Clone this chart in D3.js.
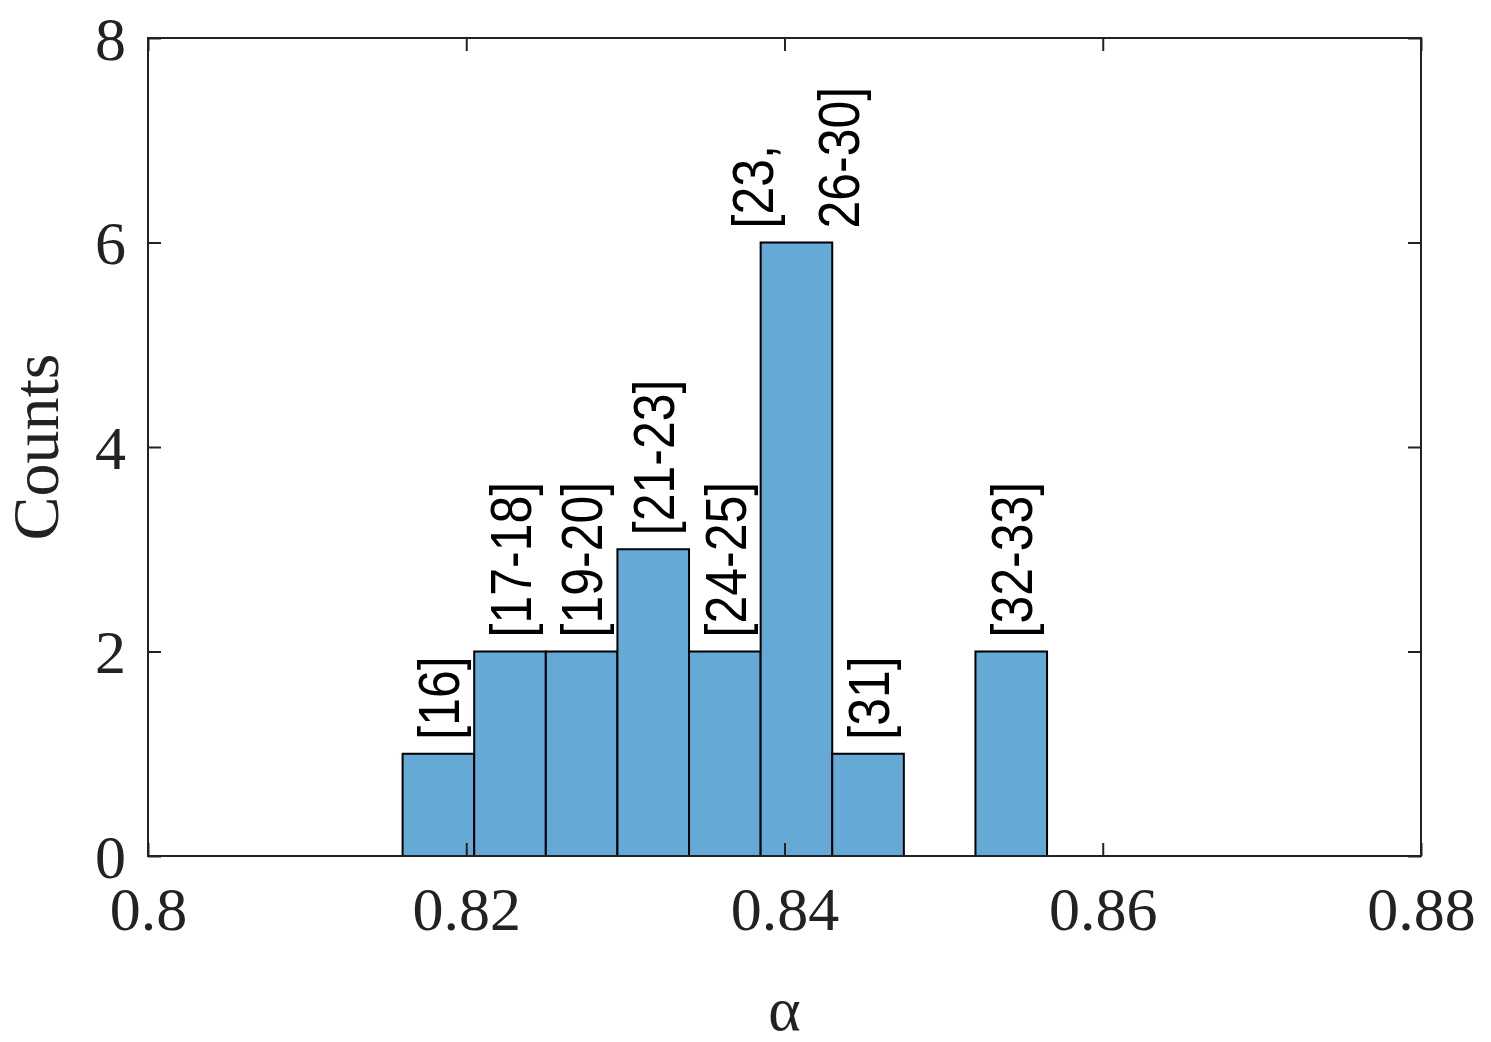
<!DOCTYPE html>
<html><head><meta charset="utf-8">
<script src="https://cdn.jsdelivr.net/npm/d3@7"></script>
<style>body{margin:0;background:#fff}</style></head>
<body><svg id="c" width="1491" height="1042"></svg>
<script>
const binEdges = [0.816,0.8205,0.825,0.8295,0.834,0.8385,0.843,0.8475,0.852,0.8565];
const counts = [1,2,2,3,2,6,1,0,2];
const labels = [["[16]"],["[17-18]"],["[19-20]"],["[21-23]"],["[24-25]"],["[23,","26-30]"],["[31]"],[],["[32-33]"]];
const xTicks = [0.8,0.82,0.84,0.86,0.88];
const yTicks = [0,2,4,6,8];

const svg = d3.select("#c");
const L=148,R=1421,T=38,B=856;
const x = d3.scaleLinear().domain([0.8,0.88]).range([L,R]);
const y = d3.scaleLinear().domain([0,8]).range([B,T]);
const serif = "'Liberation Serif','Times New Roman',serif";

const bins = counts.map((c,i)=>({c,x0:binEdges[i],x1:binEdges[i+1],lab:labels[i]}));
svg.selectAll("rect.bar").data(bins.filter(d=>d.c>0)).join("rect")
  .attr("x",d=>x(d.x0)).attr("width",d=>x(d.x1)-x(d.x0))
  .attr("y",d=>y(d.c)).attr("height",d=>B-y(d.c))
  .attr("fill","#65a9d7").attr("stroke","#000").attr("stroke-width",2);

svg.append("rect").attr("x",L).attr("y",T).attr("width",R-L).attr("height",B-T)
  .attr("fill","none").attr("stroke","#222").attr("stroke-width",2);

const tl=13;
const gx = svg.append("g").attr("transform",`translate(0,${B})`)
  .call(d3.axisBottom(x).tickValues(xTicks).tickSize(-tl).tickPadding(30).tickFormat(d=>String(d)));
const gxt = svg.append("g").attr("transform",`translate(0,${T})`)
  .call(d3.axisTop(x).tickValues(xTicks).tickSize(-tl).tickFormat(""));
const gy = svg.append("g").attr("transform",`translate(${L},0)`)
  .call(d3.axisLeft(y).tickValues(yTicks).tickSize(-tl).tickPadding(22).tickFormat(d3.format("d")));
const gyr = svg.append("g").attr("transform",`translate(${R},0)`)
  .call(d3.axisRight(y).tickValues(yTicks).tickSize(-tl).tickFormat(""));
[gx,gxt,gy,gyr].forEach(g=>{g.select(".domain").remove();
  g.selectAll("line").attr("stroke","#222").attr("stroke-width",2);
  g.selectAll("text").attr("font-family",serif).attr("font-size",62).attr("fill","#222");});
gx.selectAll("text").attr("dy","0.71em");
gy.selectAll("text").attr("dy","0.34em");

svg.append("text").attr("x",(L+R)/2).attr("y",1030).attr("text-anchor","middle")
  .attr("font-family",serif).attr("font-size",62).attr("fill","#222").text("α");
svg.append("text").attr("transform",`translate(58,${(T+B)/2}) rotate(-90)`).attr("text-anchor","middle")
  .attr("font-family",serif).attr("font-size",66).attr("fill","#222").text("Counts");

bins.forEach(d=>{
  if(!d.lab.length) return;
  const cx=(x(d.x0)+x(d.x1))/2, by=y(d.c)-14;
  const offs = d.lab.length===2 ? [-44,42] : [0];
  d.lab.forEach((s,j)=>{
    svg.append("text").attr("transform",`translate(${cx+offs[j]},${by}) rotate(-90) scale(1,1.15)`)
      .attr("dy","0.36em").attr("font-family","'Liberation Sans',Arial,sans-serif")
      .attr("font-size",50).attr("fill","#000").text(s);
  });
});
</script></body></html>
